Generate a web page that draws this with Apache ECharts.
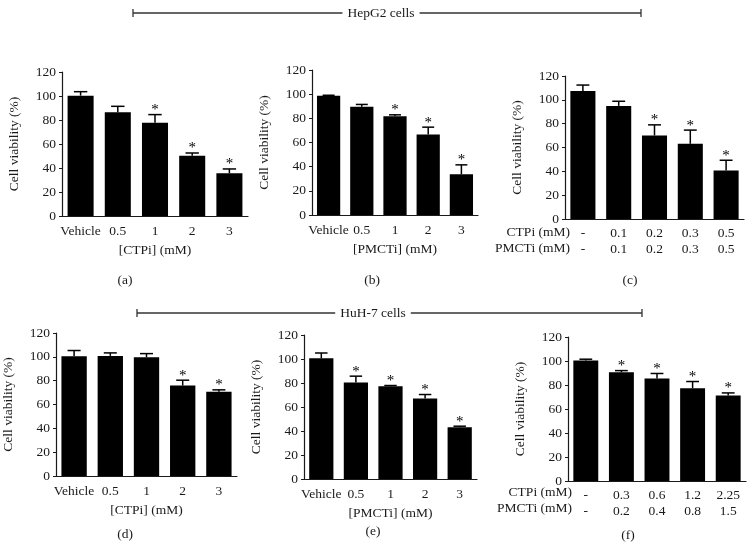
<!DOCTYPE html>
<html><head><meta charset="utf-8">
<script src="https://cdn.jsdelivr.net/npm/echarts@6/dist/echarts.min.js"></script>
<style>html,body{margin:0;padding:0;background:#fff}#c{width:756px;height:548px}</style>
</head><body><div id="c"></div>
<script>
// ---- data ----
const catsDose = ['Vehicle', '0.5', '1', '2', '3'];
const catsC_CTPi = ['-', '0.1', '0.2', '0.3', '0.5'];
const catsC_PMCTi = ['-', '0.1', '0.2', '0.3', '0.5'];
const catsF_CTPi = ['-', '0.3', '0.6', '1.2', '2.25'];
const catsF_PMCTi = ['-', '0.2', '0.4', '0.8', '1.5'];
const yTicks = [0, 20, 40, 60, 80, 100, 120];

const valA = [100.3, 86.4, 77.8, 50.3, 35.6];
const errA = [3.3, 5.0, 6.7, 2.2, 3.6];
const sigA = [0, 0, 1, 1, 1];
const valB = [98.7, 89.6, 81.8, 66.7, 33.7];
const errB = [0.4, 1.9, 1.1, 6.0, 7.8];
const sigB = [0, 0, 1, 1, 1];
const valC = [107.4, 94.9, 70.1, 63.1, 40.6];
const errC = [5.0, 3.9, 8.9, 11.5, 8.7];
const sigC = [0, 0, 1, 1, 1];
const valD = [100.5, 100.8, 99.7, 75.9, 70.6];
const errD = [4.8, 2.5, 3.0, 4.5, 1.7];
const sigD = [0, 0, 0, 1, 1];
const valE = [100.6, 80.4, 77.3, 67.1, 43.2];
const errE = [4.4, 5.3, 0.6, 3.3, 0.8];
const sigE = [0, 1, 1, 1, 1];
const valF = [100.4, 90.6, 85.4, 77.3, 71.3];
const errF = [1.1, 1.4, 4.2, 5.6, 2.1];
const sigF = [0, 1, 1, 1, 1];

const FONT = '"Liberation Serif", "DejaVu Serif", serif';
const INK = '#1a1a1a';
const FS = 13.5;

const panels = [
  {grid: {left: 62, top: 72, width: 186, height: 144}, cats: catsDose, name: '[CTPi] (mM)', val: valA, err: errA, sig: sigA},
  {grid: {left: 312, top: 70, width: 166, height: 145}, cats: catsDose, name: '[PMCTi] (mM)', val: valB, err: errB, sig: sigB},
  {grid: {left: 565, top: 76, width: 179, height: 143}, cats: catsC_CTPi.map((c, i) => c + '\n' + catsC_PMCTi[i]), name: '', val: valC, err: errC, sig: sigC, two: true},
  {grid: {left: 56, top: 333, width: 181, height: 143}, cats: catsDose, name: '[CTPi] (mM)', val: valD, err: errD, sig: sigD},
  {grid: {left: 304, top: 335, width: 173, height: 144}, cats: catsDose, name: '[PMCTi] (mM)', val: valE, err: errE, sig: sigE},
  {grid: {left: 568, top: 337, width: 178, height: 144}, cats: catsF_CTPi.map((c, i) => c + '\n' + catsF_PMCTi[i]), name: '', val: valF, err: errF, sig: sigF, two: true}
];

const grid = [], xAxis = [], yAxis = [], series = [];
panels.forEach((p, k) => {
  grid.push(p.grid);
  xAxis.push({
    type: 'category', gridIndex: k, data: p.cats,
    axisLine: {lineStyle: {color: INK, width: 1.2}},
    axisTick: {alignWithLabel: true, length: 3, lineStyle: {color: INK}},
    axisLabel: {color: INK, fontFamily: FONT, fontSize: FS, margin: p.two ? 6 : 8, lineHeight: p.two ? 16 : 15, interval: 0},
    name: p.name, nameLocation: 'middle', nameGap: 27,
    nameTextStyle: {color: INK, fontFamily: FONT, fontSize: FS}
  });
  yAxis.push({
    type: 'value', gridIndex: k, min: yTicks[0], max: yTicks[yTicks.length - 1], interval: yTicks[1] - yTicks[0],
    axisLine: {show: true, lineStyle: {color: INK, width: 1.2}},
    axisTick: {show: true, length: 3, lineStyle: {color: INK}},
    splitLine: {show: false},
    axisLabel: {color: INK, fontFamily: FONT, fontSize: FS, margin: 6},
    name: 'Cell viability (%)', nameLocation: 'middle', nameGap: 41,
    nameTextStyle: {color: INK, fontFamily: FONT, fontSize: FS}
  });
  series.push({
    type: 'bar', xAxisIndex: k, yAxisIndex: k, data: p.val,
    barCategoryGap: '30%', itemStyle: {color: '#000'}, silent: true, animation: false
  });
  series.push({
    type: 'custom', xAxisIndex: k, yAxisIndex: k, animation: false, silent: true, z: 5,
    data: p.val.map((v, i) => [i, v, p.err[i], p.sig[i]]),
    renderItem: function (params, api) {
      const i = api.value(0), v = api.value(1), e = api.value(2), s = api.value(3);
      const base = api.coord([i, v]);
      const top = api.coord([i, v + e]);
      const band = api.size([1, 0])[0];
      const cap = band * 0.18;
      const children = [
        {type: 'line', shape: {x1: base[0], y1: base[1], x2: top[0], y2: top[1]}, style: {stroke: '#000', lineWidth: 1.5}},
        {type: 'line', shape: {x1: top[0] - cap, y1: top[1], x2: top[0] + cap, y2: top[1]}, style: {stroke: '#000', lineWidth: 1.5}}
      ];
      if (s) {
        children.push({type: 'text', x: top[0], y: top[1] + 3, style: {text: '*', fontFamily: FONT, fontSize: 15, fill: '#000', align: 'center', verticalAlign: 'bottom'}});
      }
      return {type: 'group', children: children};
    }
  });
});

function header(x1, x2, y, cx, label) {
  return {
    type: 'group', children: [
      {type: 'line', shape: {x1: x1, y1: y, x2: x2, y2: y}, style: {stroke: '#333', lineWidth: 1.3}},
      {type: 'line', shape: {x1: x1, y1: y - 4, x2: x1, y2: y + 4}, style: {stroke: '#333', lineWidth: 1.3}},
      {type: 'line', shape: {x1: x2, y1: y - 4, x2: x2, y2: y + 4}, style: {stroke: '#333', lineWidth: 1.3}},
      {type: 'text', x: cx, y: y, z: 10, style: {text: label, fontFamily: FONT, fontSize: FS, fill: INK, align: 'center', verticalAlign: 'middle', backgroundColor: '#fff', padding: [0, 5]}}
    ]
  };
}
function txt(x, y, t, align) {
  return {type: 'text', x: x, y: y, style: {text: t, fontFamily: FONT, fontSize: FS, fill: INK, align: align || 'center', verticalAlign: 'middle'}};
}

const option = {
  animation: false,
  grid: grid, xAxis: xAxis, yAxis: yAxis, series: series,
  graphic: [
    header(133, 641, 13, 381, 'HepG2 cells'),
    header(137, 642, 313, 373, 'HuH-7 cells'),
    txt(570, 232, 'CTPi (mM)', 'right'),
    txt(570, 248, 'PMCTi (mM)', 'right'),
    txt(572, 492, 'CTPi (mM)', 'right'),
    txt(572, 508, 'PMCTi (mM)', 'right'),
    txt(125, 280, '(a)'), txt(372, 280, '(b)'), txt(630, 280, '(c)'),
    txt(125, 534, '(d)'), txt(373, 531, '(e)'), txt(628, 535, '(f)')
  ]
};
const chart = echarts.init(document.getElementById('c'), null, {renderer: 'canvas'});
chart.setOption(option);
</script></body></html>
